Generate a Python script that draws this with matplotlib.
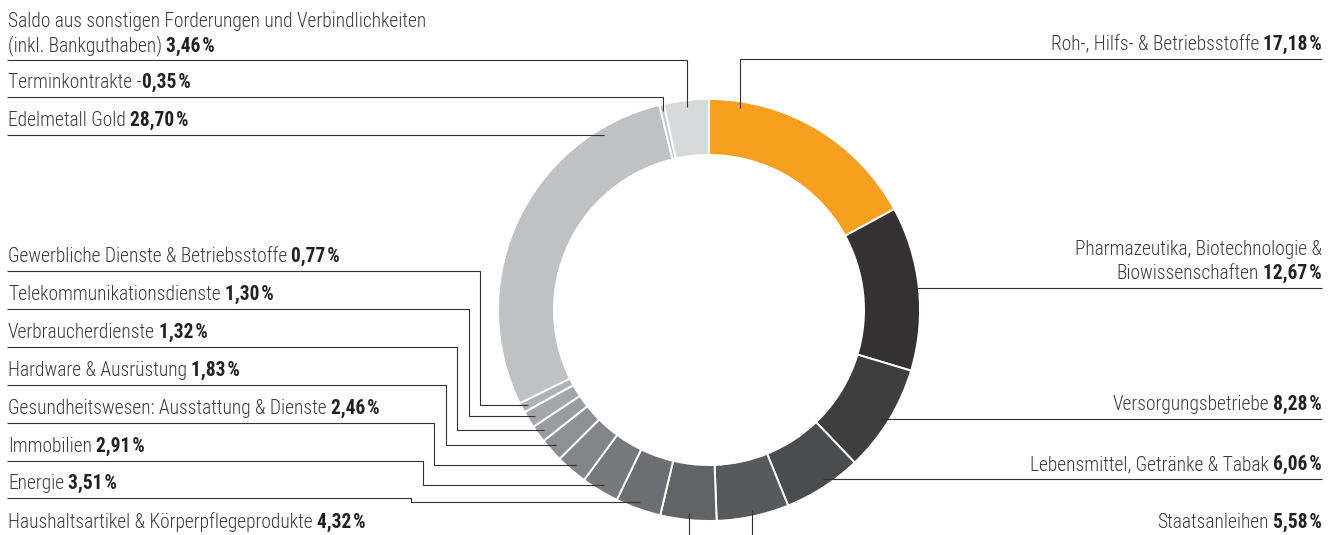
import matplotlib
matplotlib.use("Agg")
import matplotlib.pyplot as plt
import matplotlib.font_manager as fm
import numpy as np

W, H = 1335, 535

# data, clockwise from 12 o'clock
names = ["Roh-, Hilfs- & Betriebsstoffe",
         "Pharmazeutika, Biotechnologie &\nBiowissenschaften",
         "Versorgungsbetriebe",
         "Lebensmittel, Getränke & Tabak",
         "Staatsanleihen",
         "Haushaltsartikel & Körperpflegeprodukte",
         "Energie",
         "Immobilien",
         "Gesundheitswesen: Ausstattung & Dienste",
         "Hardware & Ausrüstung",
         "Verbraucherdienste",
         "Telekommunikationsdienste",
         "Gewerbliche Dienste & Betriebsstoffe",
         "Edelmetall Gold",
         "Terminkontrakte",
         "Saldo aus sonstigen Forderungen und Verbindlichkeiten\n(inkl. Bankguthaben)"]
values = [17.18, 12.67, 8.28, 6.06, 5.58, 4.32, 3.51, 2.91, 2.46, 1.83,
          1.32, 1.30, 0.77, 28.70, -0.35, 3.46]
colors = ["#f7a01f", "#333132", "#3e3e3f", "#4b4c4e", "#58595b", "#626365",
          "#6d6e71", "#78797c", "#838487", "#8f9093", "#9a9b9e", "#a5a6a9",
          "#b0b1b3", "#c0c1c3", "#c7c8ca", "#d8d9da"]

# label layout (pixel positions, y down)
side = ["R", "R", "R", "R", "R", "L", "L", "L", "L", "L", "L", "L", "L", "L", "L", "L"]
underline_y = [59, 288, 419, 479, 537, 537, 498, 461, 423, 385, 347, 309, 271, 135, 97, 60]
leader = ["v", "h", "h", "h", "v", "v", "e", "e", "e", "e", "e", "e", "e", "h", "v", "v"]
bend_x = [None] * 6 + [411, 423, 434, 446, 457, 469, 480] + [None] * 3
anchor_frac = [0.14] + [0.5] * 15

cx, cy = 709, 310
r_out, ring_w = 211, 56
r_anchor = 204
x_left, x_right = 8, 1322
line_gap = 24
base_off = 9
line_col = "#333333"


def pick_font(cands):
    for c in cands:
        try:
            fm.findfont(fm.FontProperties(family=c), fallback_to_default=False)
            return c
        except ValueError:
            pass
    return "DejaVu Sans"


font = pick_font(["Roboto Condensed", "Liberation Sans Narrow", "Roboto", "DejaVu Sans"])
fam = [font, "DejaVu Sans"]

fig = plt.figure(figsize=(W / 100, H / 100), dpi=100)
ax = fig.add_axes([0, 0, 1, 1])

sizes = np.abs(values)
ax.pie(sizes, colors=colors, startangle=-90, counterclock=True, radius=r_out,
       center=(cx, cy),
       wedgeprops=dict(width=ring_w, edgecolor="white", linewidth=1.4))
ax.set_xlim(0, W)
ax.set_ylim(H, 0)
ax.set_aspect("equal")
ax.axis("off")

# font size so that the longest line has the reference width
renderer = fig.canvas.get_renderer()
probe = ax.text(0, 0, "Saldo aus sonstigen Forderungen und Verbindlichkeiten",
                fontsize=10, family=fam, weight="light")
fs = 10 * 420 / probe.get_window_extent(renderer).width
probe.remove()

# anchor points on the ring
cum = np.concatenate([[0], np.cumsum(sizes)]) / sizes.sum() * 360
phi = np.radians(cum[:-1] + (cum[1:] - cum[:-1]) * np.array(anchor_frac))
anc_x = cx + r_anchor * np.sin(phi)
anc_y = cy - r_anchor * np.cos(phi)

txt = dict(fontsize=fs, family=fam, weight="light", color="#3a3a3a")
num = dict(fontsize=fs, family=fam, weight="bold", color="#222222")

for i, name in enumerate(names):
    yu = underline_y[i]
    edge = x_left - 1 if side[i] == "L" else x_right
    if leader[i] == "h":
        sgn = -1 if side[i] == "L" else 1
        xa = cx + sgn * np.sqrt(r_anchor ** 2 - (yu - cy) ** 2)
        xs, ys = [edge, xa], [yu, yu]
    elif leader[i] == "v":
        xs, ys = [edge, anc_x[i], anc_x[i]], [yu, yu, anc_y[i]]
    else:
        bx = bend_x[i]
        xs = [edge, bx, bx, anc_x[i]]
        ys = [yu, yu, anc_y[i], anc_y[i]]
    ax.plot(xs, ys, color=line_col, lw=0.8, solid_capstyle="butt", zorder=5)

    lines = name.split("\n")
    yb = yu - base_off
    val = f"{abs(values[i]):.2f}".replace(".", ",") + "\u200a%"
    last = lines[-1] + (" -" if values[i] < 0 else "")
    gap = 0.5 if values[i] < 0 else 3
    if side[i] == "L":
        for k, ln in enumerate(lines[:-1]):
            ax.text(x_left, yb - line_gap * (len(lines) - 1 - k), ln, ha="left",
                    va="baseline", **txt)
        t = ax.text(x_left, yb, last, ha="left", va="baseline", **txt)
        ax.annotate(val, xy=(1, 0), xycoords=t, xytext=(gap, 0),
                    textcoords="offset points", ha="left", va="bottom", **num)
    else:
        for k, ln in enumerate(lines[:-1]):
            ax.text(x_right, yb - line_gap * (len(lines) - 1 - k), ln, ha="right",
                    va="baseline", **txt)
        t = ax.text(x_right, yb, val, ha="right", va="baseline", **num)
        ax.annotate(last, xy=(0, 0), xycoords=t, xytext=(-gap, 0),
                    textcoords="offset points", ha="right", va="bottom", **txt)

fig.savefig("out.png", dpi=100, facecolor="white")
